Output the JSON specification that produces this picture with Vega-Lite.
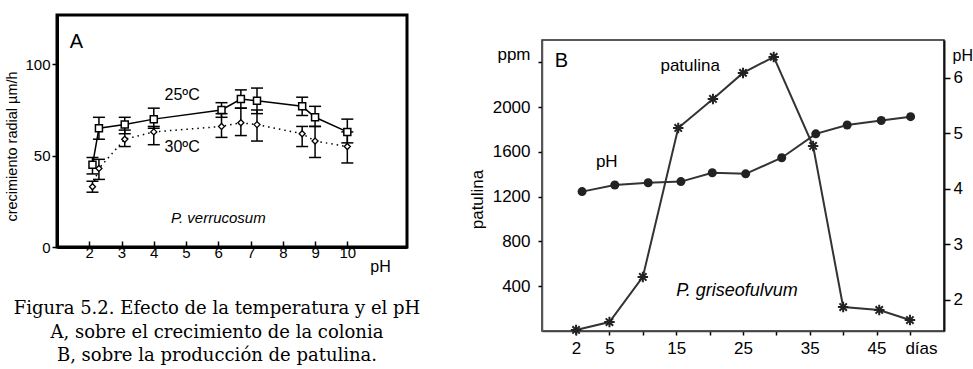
{
  "$schema": "https://vega.github.io/schema/vega-lite/v6.json",
  "background": "white",
  "padding": {"left": 3, "top": 13, "right": 0, "bottom": 0},
  "spacing": 45,
  "config": {
    "font": "Liberation Sans",
    "axis": {"grid": false, "labelFont": "Liberation Sans", "titleFont": "Liberation Sans", "labelColor": "black", "titleColor": "black", "titleFontWeight": "normal", "domainColor": "black", "tickColor": "black", "labelFlush": false}
  },
  "datasets": {
    "crec": [
      {"ph": 2.1, "temp": "25", "v": 45, "lo": 40, "hi": 49},
      {"ph": 2.3, "temp": "25", "v": 65, "lo": 59, "hi": 71},
      {"ph": 3.1, "temp": "25", "v": 67, "lo": 62, "hi": 71},
      {"ph": 4.0, "temp": "25", "v": 70, "lo": 65, "hi": 76},
      {"ph": 6.1, "temp": "25", "v": 75, "lo": 71, "hi": 79},
      {"ph": 6.7, "temp": "25", "v": 81, "lo": 76, "hi": 86},
      {"ph": 7.2, "temp": "25", "v": 80, "lo": 73, "hi": 87},
      {"ph": 8.6, "temp": "25", "v": 77, "lo": 72, "hi": 82},
      {"ph": 9.0, "temp": "25", "v": 71, "lo": 66, "hi": 77},
      {"ph": 10.0, "temp": "25", "v": 63, "lo": 57, "hi": 70},
      {"ph": 2.1, "temp": "30", "v": 33, "lo": 30, "hi": 36},
      {"ph": 2.3, "temp": "30", "v": 43, "lo": 37, "hi": 48},
      {"ph": 3.1, "temp": "30", "v": 59, "lo": 55, "hi": 64},
      {"ph": 4.0, "temp": "30", "v": 63, "lo": 56, "hi": 66},
      {"ph": 6.1, "temp": "30", "v": 66, "lo": 60, "hi": 73},
      {"ph": 6.7, "temp": "30", "v": 68, "lo": 61, "hi": 76},
      {"ph": 7.2, "temp": "30", "v": 67, "lo": 58, "hi": 75},
      {"ph": 8.6, "temp": "30", "v": 62, "lo": 55, "hi": 66},
      {"ph": 9.0, "temp": "30", "v": 58, "lo": 49, "hi": 66},
      {"ph": 10.0, "temp": "30", "v": 55, "lo": 46, "hi": 63}
    ],
    "patulina": [
      {"dia": 0, "ppm": 9},
      {"dia": 5, "ppm": 80},
      {"dia": 10, "ppm": 483},
      {"dia": 15.3, "ppm": 1814},
      {"dia": 20.5, "ppm": 2073},
      {"dia": 25, "ppm": 2306},
      {"dia": 29.6, "ppm": 2449},
      {"dia": 35.5, "ppm": 1653},
      {"dia": 40, "ppm": 214},
      {"dia": 45.4, "ppm": 188},
      {"dia": 50, "ppm": 98}
    ],
    "ph": [
      {"dia": 0.9, "ph": 3.95},
      {"dia": 5.8, "ph": 4.07},
      {"dia": 10.8, "ph": 4.11},
      {"dia": 15.7, "ph": 4.13},
      {"dia": 20.4, "ph": 4.29},
      {"dia": 25.4, "ph": 4.27},
      {"dia": 30.8, "ph": 4.56},
      {"dia": 35.9, "ph": 4.99},
      {"dia": 40.6, "ph": 5.15},
      {"dia": 45.7, "ph": 5.23},
      {"dia": 50.1, "ph": 5.30}
    ],
    "notasA": [
      {"ph": 4.88, "v": 83, "label": "25ºC"},
      {"ph": 4.88, "v": 55, "label": "30ºC"}
    ],
    "notasB": [
      {"dia": 17.1, "ppm": 2368, "label": "patulina"},
      {"dia": 4.6, "ppm": 1510, "label": "pH"},
      {"dia": -9.3, "ppm": 2466, "label": "ppm"}
    ]
  },
  "hconcat": [
    {
      "width": 350,
      "height": 232,
      "view": {"stroke": "black", "strokeWidth": 3},
      "title": {
        "text": ["Figura 5.2. Efecto de la temperatura y el pH", "A, sobre el crecimiento de la colonia", "B, sobre la producción de patulina."],
        "orient": "bottom", "frame": "group", "anchor": "middle", "dx": -15, "offset": 26,
        "font": "DejaVu Serif", "fontSize": 18, "fontWeight": "normal", "lineHeight": 23.5, "color": "black"
      },
      "encoding": {
        "x": {
          "field": "ph", "type": "quantitative",
          "scale": {"domain": [1, 11.85], "nice": false, "zero": false},
          "axis": {
            "values": [2, 3, 4, 5, 6, 7, 8, 9, 10], "tickSize": -6, "tickWidth": 1.5, "labelFontSize": 15, "labelPadding": 4,
            "domainWidth": 3, "title": "pH", "titleFontSize": 16, "titleX": 323, "titleY": 19, "titleAlign": "center", "titleBaseline": "middle"
          }
        }
      },
      "layer": [
        {
          "data": {"name": "crec"},
          "transform": [{"filter": "datum.temp == '25'"}],
          "mark": {"type": "line", "color": "black", "strokeWidth": 1.5},
          "encoding": {
            "y": {
              "field": "v", "type": "quantitative",
              "scale": {"domain": [0, 127], "nice": false},
              "title": "crecimiento radial  µm/h",
              "axis": {
                "values": [0, 50, 100], "tickSize": 5, "tickWidth": 1.5, "labelFontSize": 15, "labelPadding": 2, "domainWidth": 3,
                "title": "crecimiento radial  µm/h", "titleFontSize": 14.5, "titleY": 131, "titlePadding": 5
              }
            }
          }
        },
        {
          "data": {"name": "crec"},
          "transform": [{"filter": "datum.temp == '30'"}],
          "mark": {"type": "line", "color": "black", "strokeWidth": 1.5, "strokeDash": [1.5, 4]},
          "encoding": {"y": {"field": "v", "type": "quantitative"}}
        },
        {
          "data": {"name": "crec"},
          "mark": {"type": "rule", "color": "black", "strokeWidth": 1.5},
          "encoding": {"y": {"field": "lo", "type": "quantitative"}, "y2": {"field": "hi"}}
        },
        {
          "data": {"name": "crec"},
          "mark": {"type": "point", "shape": "M -1 0 L 1 0", "size": 144, "filled": false, "stroke": "black", "strokeWidth": 1.5, "opacity": 1},
          "encoding": {"y": {"field": "lo", "type": "quantitative"}}
        },
        {
          "data": {"name": "crec"},
          "mark": {"type": "point", "shape": "M -1 0 L 1 0", "size": 144, "filled": false, "stroke": "black", "strokeWidth": 1.5, "opacity": 1},
          "encoding": {"y": {"field": "hi", "type": "quantitative"}}
        },
        {
          "data": {"name": "crec"},
          "transform": [{"filter": "datum.temp == '25'"}],
          "mark": {"type": "point", "shape": "square", "size": 49, "filled": true, "fill": "white", "stroke": "black", "strokeWidth": 1.5, "opacity": 1},
          "encoding": {"y": {"field": "v", "type": "quantitative"}}
        },
        {
          "data": {"name": "crec"},
          "transform": [{"filter": "datum.temp == '30'"}],
          "mark": {"type": "point", "shape": "diamond", "size": 36, "filled": true, "fill": "white", "stroke": "black", "strokeWidth": 1.3, "opacity": 1},
          "encoding": {"y": {"field": "v", "type": "quantitative"}}
        },
        {
          "data": {"name": "notasA"},
          "mark": {"type": "text", "fontSize": 16, "color": "black", "align": "center", "baseline": "middle"},
          "encoding": {"y": {"field": "v", "type": "quantitative"}, "text": {"field": "label"}}
        },
        {
          "data": {"values": [{"ph": 1.6, "v": 112, "label": "A"}]},
          "mark": {"type": "text", "fontSize": 20, "color": "black", "align": "center", "baseline": "middle"},
          "encoding": {"y": {"field": "v", "type": "quantitative"}, "text": {"field": "label"}}
        },
        {
          "data": {"values": [{"ph": 6.0, "v": 15.8, "label": "P. verrucosum"}]},
          "mark": {"type": "text", "fontSize": 15, "fontStyle": "italic", "color": "black", "align": "center", "baseline": "middle"},
          "encoding": {"y": {"field": "v", "type": "quantitative"}, "text": {"field": "label"}}
        }
      ]
    },
    {
      "spacing": 0,
      "vconcat": [
        {
          "width": 402,
          "height": 24,
          "view": {"stroke": null},
          "data": {"values": []},
          "mark": {"type": "point", "opacity": 0},
          "encoding": {}
        },
        {
          "width": 402,
          "height": 291,
          "view": {"stroke": "#222", "strokeWidth": 1.5},
          "encoding": {
            "x": {
              "field": "dia", "type": "quantitative",
              "scale": {"domain": [-5.1, 55.1], "nice": false, "zero": false},
              "axis": {
                "values": [0, 5, 10, 15, 20, 25, 30, 35, 40, 45, 50],
                "labelExpr": "datum.value == 0 ? '2' : datum.value == 50 ? 'días' : datum.value % 10 == 5 ? datum.label : ''",
                "labelOffset": {"condition": {"test": "datum.value == 50", "value": 11}, "value": 0},
                "tickSize": 4, "tickWidth": 1.5, "labelFontSize": 17, "labelPadding": 5,
                "domainColor": "#444", "domainWidth": 1.5, "title": null
              }
            }
          },
          "layer": [
            {
              "layer": [
                {
                  "data": {"name": "patulina"},
                  "mark": {"type": "line", "color": "#333", "strokeWidth": 2},
                  "encoding": {
                    "y": {
                      "field": "ppm", "type": "quantitative",
                      "scale": {"domain": [0, 2600], "nice": false},
                      "title": "patulina",
                      "axis": {
                        "values": [400, 800, 1200, 1600, 2000, 2400], "format": "d",
                        "labelExpr": "datum.value == 2400 ? '' : datum.label",
                        "tickSize": 4, "tickWidth": 1.5, "labelPadding": 8, "labelFontSize": 17,
                        "domainColor": "#555", "domainWidth": 1.5,
                        "title": "patulina", "titleFontSize": 17, "titleY": 159, "titlePadding": 6
                      }
                    }
                  }
                },
                {
                  "data": {"name": "patulina"},
                  "mark": {"type": "point", "shape": "M -1 0 L 1 0 M 0 -1 L 0 1 M -0.7 -0.7 L 0.7 0.7 M -0.7 0.7 L 0.7 -0.7", "size": 110, "filled": false, "stroke": "#222", "strokeWidth": 2, "opacity": 1},
                  "encoding": {"y": {"field": "ppm", "type": "quantitative"}}
                },
                {
                  "data": {"name": "notasB"},
                  "mark": {"type": "text", "fontSize": 17, "color": "black", "align": "center", "baseline": "middle"},
                  "encoding": {"y": {"field": "ppm", "type": "quantitative"}, "text": {"field": "label"}}
                },
                {
                  "data": {"values": [{"dia": -2.2, "ppm": 2413, "label": "B"}]},
                  "mark": {"type": "text", "fontSize": 20, "color": "black", "align": "center", "baseline": "middle"},
                  "encoding": {"y": {"field": "ppm", "type": "quantitative"}, "text": {"field": "label"}}
                },
                {
                  "data": {"values": [{"dia": 24.1, "ppm": 357, "label": "P. griseofulvum"}]},
                  "mark": {"type": "text", "fontSize": 18, "fontStyle": "italic", "color": "black", "align": "center", "baseline": "middle"},
                  "encoding": {"y": {"field": "ppm", "type": "quantitative"}, "text": {"field": "label"}}
                }
              ]
            },
            {
              "layer": [
                {
                  "data": {"name": "ph"},
                  "mark": {"type": "line", "color": "#333", "strokeWidth": 2},
                  "encoding": {
                    "y": {
                      "field": "ph", "type": "quantitative",
                      "scale": {"domain": [1.44, 6.68], "nice": false, "zero": false},
                      "title": "pH",
                      "axis": {
                        "orient": "right", "values": [2, 3, 4, 5, 6], "format": "d", "tickSize": 6, "tickWidth": 1.5, "labelPadding": 3, "labelFontSize": 17,
                        "domainColor": "#111", "domainWidth": 2,
                        "title": "pH", "titleAngle": 0, "titleX": 8, "titleY": 15, "titleAlign": "left", "titleBaseline": "middle", "titleFontSize": 16
                      }
                    }
                  }
                },
                {
                  "data": {"name": "ph"},
                  "mark": {"type": "point", "shape": "circle", "size": 81, "filled": true, "color": "#222", "opacity": 1},
                  "encoding": {"y": {"field": "ph", "type": "quantitative"}}
                }
              ]
            }
          ],
          "resolve": {"scale": {"y": "independent"}}
        }
      ]
    }
  ]
}
